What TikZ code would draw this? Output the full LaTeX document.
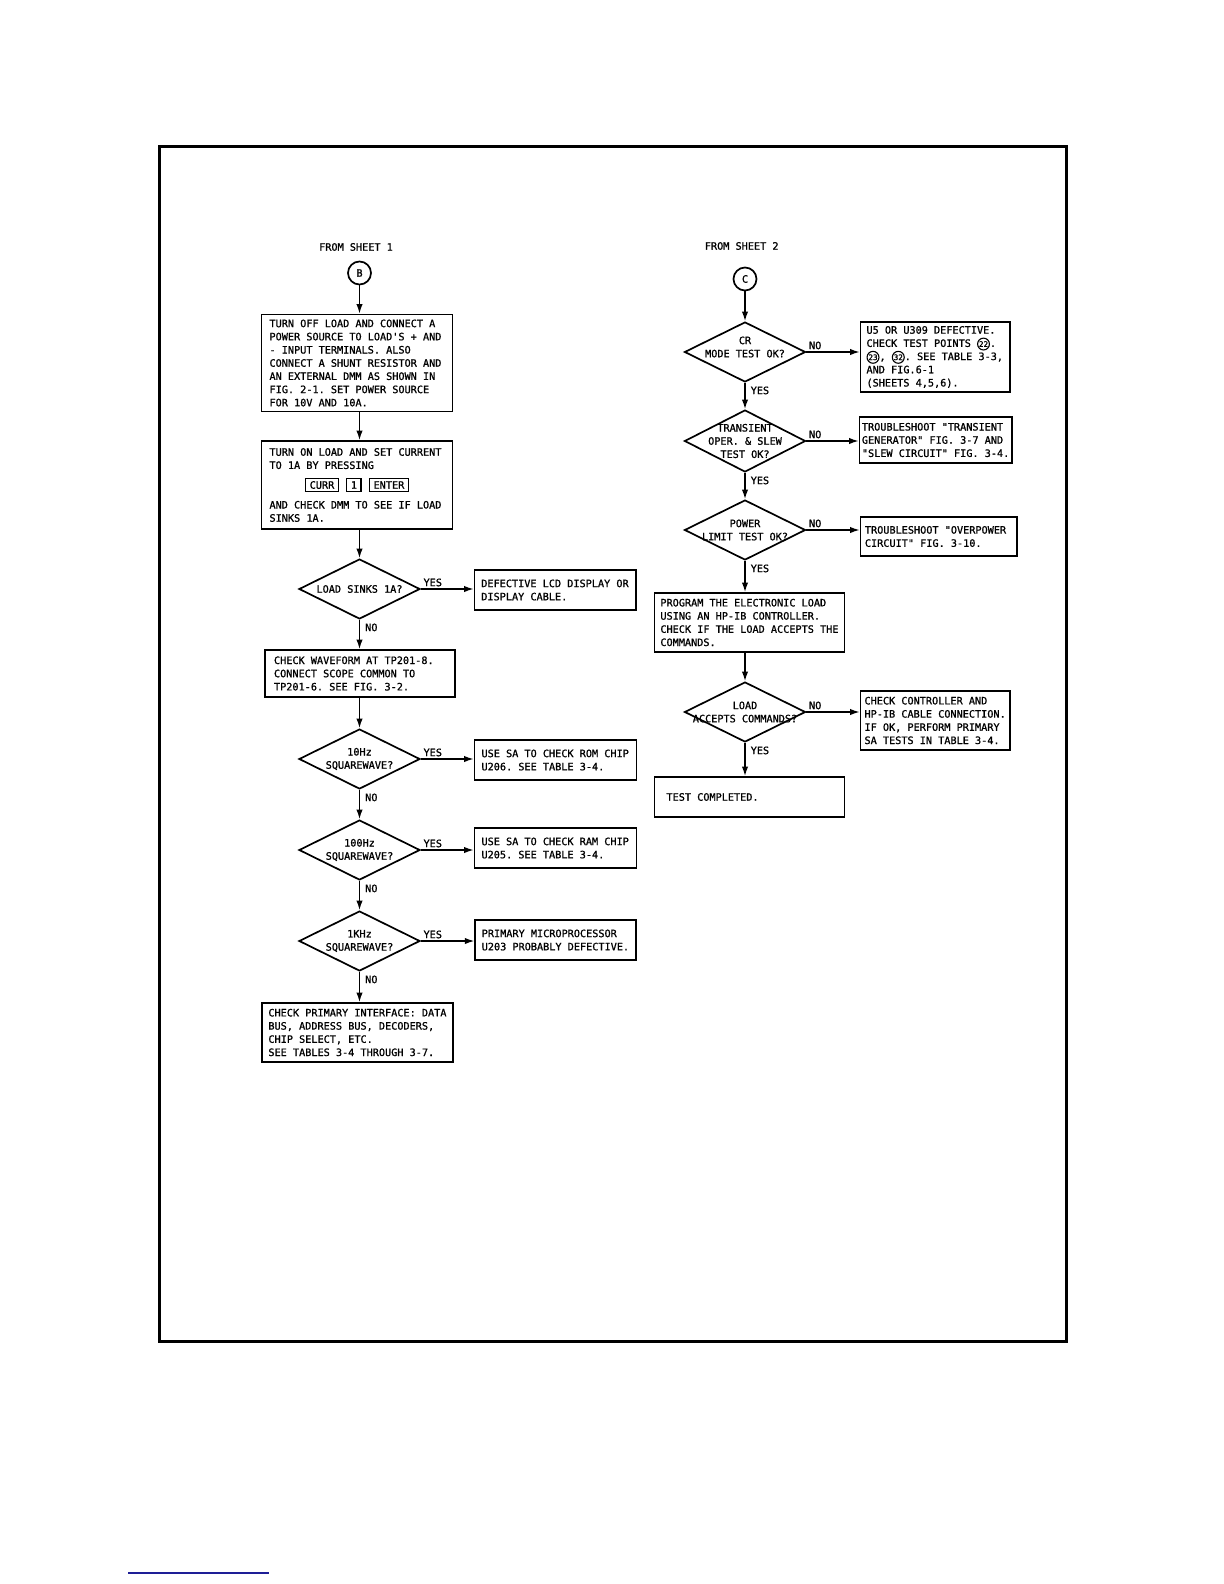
\documentclass[tikz,border=0pt]{standalone}
\usepackage{fontspec}
\usetikzlibrary{arrows.meta, shapes.geometric}
\newfontfamily\plotfont{DejaVu Sans Mono}[FakeBold=1]
\newcommand\pf{\plotfont\fontsize{5.1pt}{6.6pt}\selectfont}
\newcommand\keycap[1]{{\fboxsep=0.9pt\fboxrule=0.7pt\fbox{\hspace{0.8pt}#1\hspace{0.8pt}}}}
\newcommand\tpt[1]{\tikz[baseline=(tp.base)]\node[circle, draw, line width=0.55pt, inner sep=0.2pt, minimum size=0pt, text width={}, font=\plotfont\fontsize{3.8pt}{3.8pt}\selectfont] (tp) {#1};}
\definecolor{linkblue}{RGB}{30,30,150}

\begin{document}
\begin{tikzpicture}[x=0.5pt, y=-0.5pt,
  mono/.style={font=\pf, execute at begin node={\spaceskip=0.602em\xspaceskip=0.602em\relax}},
  proc/.style={mono, draw, line width=0.85pt, align=left, inner ysep=0pt},
  dec/.style={draw, diamond, line width=0.85pt, inner sep=0pt, minimum width=60.5pt, minimum height=30pt},
  dtext/.style={mono, align=center, inner sep=0pt},
  conn/.style={mono, draw, circle, line width=0.85pt, minimum size=11.5pt, inner sep=0pt},
  flow/.style={-{Latex[length=4.8pt,width=3.2pt]}, line width=0.7pt},
  side/.style={mono, inner sep=1pt, pos=0, anchor=south west},
  down/.style={mono, inner sep=1pt, pos=0, anchor=north west, xshift=1.5pt, yshift=-0.5pt}]
\useasboundingbox (0,0) rectangle (1224,1584);
% Frame
\draw[line width=1.5pt] (159.5,146) rectangle (1066,1341.5);
\draw[linkblue, line width=0.7pt] (128,1573) -- (269,1573);

% Left column
\node[mono] (from1) at (356,247) {FROM SHEET 1};
\node[conn] (bcon) at (359.5,273) {B};
\node[proc, text width=87.5pt, inner xsep=4pt, minimum height=48.5pt] (turnoff) at (357,363) {TURN OFF LOAD AND CONNECT A\\POWER SOURCE TO LOAD'S + AND\\- INPUT TERMINALS. ALSO\\CONNECT A SHUNT RESISTOR AND\\AN EXTERNAL DMM AS SHOWN IN\\FIG. 2-1. SET POWER SOURCE\\FOR 10V AND 10A.};
\node[proc, text width=87.5pt, inner xsep=4pt, minimum height=44pt] (turnon) at (357,485) {TURN ON LOAD AND SET CURRENT\\TO 1A BY PRESSING\\[3.3pt]
  \leavevmode\hbox to\hsize{\hfil\keycap{CURR}\hspace{3.5pt}\keycap{1}\hspace{3.5pt}\keycap{ENTER}\hfil}\\[3.3pt]
  AND CHECK DMM TO SEE IF LOAD\\SINKS 1A.};
\node[dec, label={[dtext]center:LOAD SINKS 1A?}] (sinks) at (359.5,589) {};
\node[proc, text width=73.95pt, inner xsep=3.4pt, minimum height=20pt] (lcd) at (555.25,590) {DEFECTIVE LCD DISPLAY OR\\DISPLAY CABLE.};
\node[proc, text width=86pt, inner xsep=4.5pt, minimum height=23.5pt] (wave) at (360,673.5) {CHECK WAVEFORM AT TP201-8.\\CONNECT SCOPE COMMON TO\\TP201-6. SEE FIG. 3-2.};
\node[dec, label={[dtext]center:10Hz\\SQUAREWAVE?}] (hz10) at (359.5,759) {};
\node[proc, text width=74pt, inner xsep=3.5pt, minimum height=20pt] (rom) at (555.5,760) {USE SA TO CHECK ROM CHIP\\U206. SEE TABLE 3-4.};
\node[dec, label={[dtext]center:100Hz\\SQUAREWAVE?}] (hz100) at (359.5,850) {};
\node[proc, text width=74pt, inner xsep=3.5pt, minimum height=20pt] (ram) at (555.5,848) {USE SA TO CHECK RAM CHIP\\U205. SEE TABLE 3-4.};
\node[dec, label={[dtext]center:1KHz\\SQUAREWAVE?}] (khz1) at (359.5,941) {};
\node[proc, text width=74pt, inner xsep=3.25pt, minimum height=20pt] (cpu) at (555.75,940) {PRIMARY MICROPROCESSOR\\U203 PROBABLY DEFECTIVE.};
\node[proc, text width=89.1pt, inner xsep=3.2pt, minimum height=29.5pt] (intf) at (357.5,1032.5) {CHECK PRIMARY INTERFACE: DATA\\BUS, ADDRESS BUS, DECODERS,\\CHIP SELECT, ETC.\\SEE TABLES 3-4 THROUGH 3-7.};

\draw[flow] (bcon.south) -- (bcon |- turnoff.north);
\draw[flow] (bcon |- turnoff.south) -- (bcon |- turnon.north);
\draw[flow] (sinks |- turnon.south) -- (sinks.north);
\draw[flow] (sinks.east) -- node[side] {YES} (sinks -| lcd.west);
\draw[flow] (sinks.south) -- node[down] {NO} (sinks |- wave.north);
\draw[flow] (hz10 |- wave.south) -- (hz10.north);
\draw[flow] (hz10.east) -- node[side] {YES} (hz10 -| rom.west);
\draw[flow] (hz10.south) -- node[down] {NO} (hz100.north);
\draw[flow] (hz100.east) -- node[side] {YES} (hz100 -| ram.west);
\draw[flow] (hz100.south) -- node[down] {NO} (khz1.north);
\draw[flow] (khz1.east) -- node[side] {YES} (khz1 -| cpu.west);
\draw[flow] (khz1.south) -- node[down] {NO} (khz1 |- intf.north);

% Right column
\node[mono] (from2) at (741.7,246) {FROM SHEET 2};
\node[conn] (ccon) at (745,279) {C};
\node[dec, label={[dtext, yshift=2.5pt]center:CR\\MODE TEST OK?}] (crtest) at (745,352) {};
\node[proc, text width=68.75pt, inner xsep=3pt, minimum height=35pt] (u5) at (935.25,357) {U5 OR U309 DEFECTIVE.\\CHECK TEST POINTS \tpt{22}.\\\tpt{23}, \tpt{32}. SEE TABLE 3-3,\\AND FIG.6-1\\(SHEETS 4,5,6).};
\node[dec, minimum height=31pt, label={[dtext]center:TRANSIENT\\OPER. \& SLEW\\TEST OK?}] (trans) at (745,441) {};
\node[proc, text width=73.85pt, inner xsep=1.2pt, minimum height=23.25pt] (transfix) at (935.75,440) {TROUBLESHOOT "TRANSIENT\\GENERATOR" FIG. 3-7 AND\\"SLEW CIRCUIT" FIG. 3-4.};
\node[dec, label={[dtext]center:POWER\\LIMIT TEST OK?}] (power) at (745,530) {};
\node[proc, text width=73.85pt, inner xsep=2.2pt, minimum height=19.5pt] (ovp) at (938.75,536.5) {TROUBLESHOOT "OVERPOWER\\CIRCUIT" FIG. 3-10.};
\node[proc, text width=89.1pt, inner xsep=2.95pt, minimum height=29.5pt] (prog) at (749.5,622.5) {PROGRAM THE ELECTRONIC LOAD\\USING AN HP-IB CONTROLLER.\\CHECK IF THE LOAD ACCEPTS THE\\COMMANDS.};
\node[dec, label={[dtext]center:LOAD\\ACCEPTS COMMANDS?}] (accept) at (745,712) {};
\node[proc, text width=70.75pt, inner xsep=2pt, minimum height=29.5pt] (ctrl) at (935.25,720.5) {CHECK CONTROLLER AND\\HP-IB CABLE CONNECTION.\\IF OK, PERFORM PRIMARY\\SA TESTS IN TABLE 3-4.};
\node[proc, text width=83pt, inner xsep=6pt, minimum height=20pt] (done) at (749.5,797) {TEST COMPLETED.};

\draw[flow] (ccon.south) -- (crtest.north);
\draw[flow] (crtest.east) -- node[side] {NO} (crtest -| u5.west);
\draw[flow] (crtest.south) -- node[down] {YES} (trans.north);
\draw[flow] (trans.east) -- node[side] {NO} (trans -| transfix.west);
\draw[flow] (trans.south) -- node[down] {YES} (power.north);
\draw[flow] (power.east) -- node[side] {NO} (power -| ovp.west);
\draw[flow] (power.south) -- node[down] {YES} (power |- prog.north);
\draw[flow] (accept |- prog.south) -- (accept.north);
\draw[flow] (accept.east) -- node[side] {NO} (accept -| ctrl.west);
\draw[flow] (accept.south) -- node[down] {YES} (accept |- done.north);
\end{tikzpicture}
\end{document}
